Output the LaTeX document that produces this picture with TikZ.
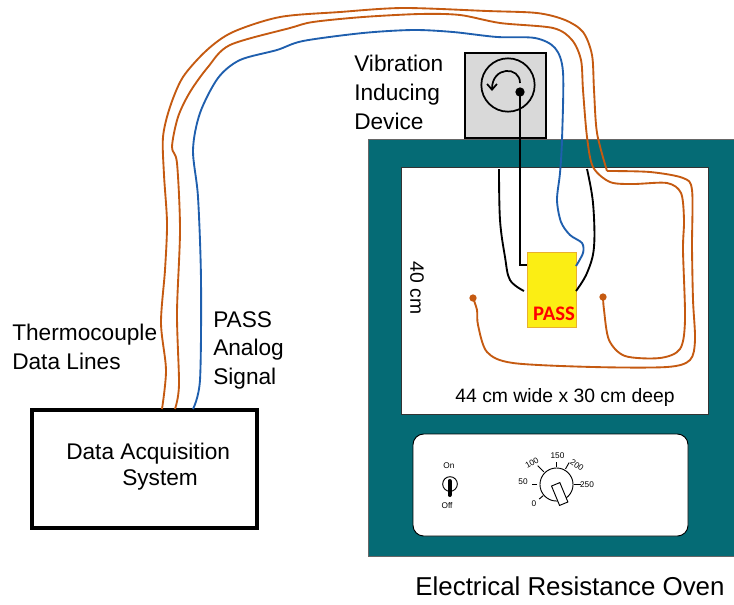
\documentclass[tikz,border=0pt]{standalone}
\usepackage{fontspec}
\setmainfont{Liberation Sans}
\newfontfamily\passfont{Carlito}
\usepackage{tikz}
\usetikzlibrary{arrows.meta, positioning, calc, fit}
\definecolor{OvenTeal}{HTML}{056B75}
\definecolor{WireBrown}{HTML}{C55A11}
\definecolor{WireBlue}{HTML}{1F5FAE}
\definecolor{DeviceGrey}{HTML}{D9D9D9}
\definecolor{PassYellow}{HTML}{FBEE14}
\definecolor{PassEdge}{HTML}{E9B02E}
\begin{document}
\begin{tikzpicture}[
        x=0.75pt, y=-0.75pt,
        label/.style={align=left, inner sep=0pt, font=\fontsize{17}{21.5}\selectfont},
        dimlabel/.style={inner sep=0pt, font=\fontsize{14.5}{17}\selectfont},
        dialnum/.style={inner sep=0pt, font=\fontsize{6.2}{7}\selectfont},
        daqbox/.style={draw=black, line width=2.4pt, inner sep=0pt},
        devbox/.style={draw=black, fill=DeviceGrey, line width=1.3pt, inner sep=0pt},
        ovenbox/.style={draw=black!60, fill=OvenTeal, line width=0.7pt, inner sep=0pt},
        cavity/.style={draw=black!80, fill=white, line width=0.7pt, inner sep=0pt},
        panel/.style={draw=black, fill=white, line width=0.7pt, inner sep=0pt, rounded corners=8pt},
        sensor/.style={draw=PassEdge, fill=PassYellow, line width=0.7pt, inner sep=0pt},
        tcwire/.style={WireBrown, line width=1.4pt, line join=round},
        sigwire/.style={WireBlue, line width=1.4pt},
        blackwire/.style={black, line width=1.4pt},
        tcdot/.style={circle, fill=WireBrown, inner sep=0pt, minimum size=5.5pt},
      ]
        \useasboundingbox (0,0) rectangle (734,604);
        \node[ovenbox, fit={(368,139) (738,556)}] (oven) {};
        \node[cavity, fit={(401,167) (708,414)}] (cav) {};
        \node[panel, fit={(413,434) (688,536)}] (ctrl) {};
        \node[devbox, fit={(465,53) (546,138)}] (device) {};
        \node[daqbox, fit={(32,410) (257,528)}] (daq) {};
        \node[sensor, fit={(527,252) (576,327)}] (pass) {};
        \node[circle, draw=black, line width=1.3pt, inner sep=0pt, minimum size=40pt] (rotor) at (508,85) {};
        \node[circle, fill=black, inner sep=0pt, minimum size=7pt] (shaft) at (520,92) {};
        \node[tcdot] (tipL) at (473,298) {};
        \node[tcdot] (tipR) at (603,297) {};
        \coordinate (outA) at (162,409);
        \coordinate (outB) at (175,409);
        \coordinate (outC) at (193,409);
        \coordinate (bendA) at (607,171);
        \coordinate (shaftend) at (527,265);
        \coordinate (sigend) at (576,266);
        \draw[line width=1.3pt, -{Straight Barb[length=1.5mm, width=2.6mm]}] (520,83) .. controls (520,66) and (492,66) .. (492,91);
        \draw[blackwire] (shaft.center) |- (shaftend);
        \draw[blackwire] plot[smooth, tension=0.6] coordinates {(499,169) (500,220) (505,257) (510,280) (524,291)};
        \draw[blackwire] plot[smooth, tension=0.6] coordinates {(587,169) (593,203) (594,247) (587,273) (576,291)};
        \draw[tcwire] plot[smooth, tension=0.5] coordinates {(outA) (166,370) (161,323) (165,270) (167,223) (164,175) (163,137) (170,107) (183,77) (207,50) (233,32) (280,17) (340,12) (403,8) (487,11) (537,13) (565,20) (583,32) (592,55) (594,90) (597,133) (bendA)};
        \draw[tcwire] plot[smooth, tension=0.5] coordinates {(bendA) (650,172) (683,178) (692,190) (692,247) (693,300) (695,340) (690,360) (667,367) (593,367) (513,363) (487,352) (478,325) (477,310) (tipL)};
        \draw[tcwire] plot[smooth, tension=0.5] coordinates {(outB) (179,385) (177,313) (180,230) (177,163) (172,147) (178,117) (190,92) (208,67) (230,45) (290,28) (313,22) (363,17) (420,14) (460,15) (500,23) (553,28) (572,40) (581,60) (583,90) (587,137) (593,167) (610,182) (633,184) (667,183) (681,193) (684,220) (683,250) (685,320) (680,349) (660,358) (625,356) (609,340) (604,310) (tipR)};
        \draw[sigwire] plot[smooth, tension=0.5] coordinates {(outC) (200,380) (201,280) (198,197) (193,150) (200,113) (218,78) (240,60) (277,50) (303,41) (363,33) (413,30) (453,32) (497,37) (535,38) (555,48) (563,72) (562,140) (560,173) (557,200) (561,222) (570,235) (582,243) (583,253) (sigend)};
        \node[inner sep=0pt, text=red, font=\fontsize{15.5}{17}\passfont\bfseries] (passname) at (554,314) {PASS};
        \node[label, anchor=north west] (devname) at (354,55) {Vibration\\Inducing\\Device};
        \node[label, anchor=north west] (tcname) at (12,324) {Thermocouple\\Data Lines};
        \node[label, anchor=north west] (signame) at (213,311) {PASS\\Analog\\Signal};
        \node[label, anchor=north west, font=\fontsize{17}{19.5}\selectfont] (daqname) at (66,443) {Data Acquisition\\\hspace*{42pt}System};
        \node[dimlabel, rotate=-90] (height) at (417,288) {40 cm};
        \node[dimlabel] (width) at (565,397) {44 cm wide x 30 cm deep};
        \node[inner sep=0pt, font=\fontsize{19.4}{22}\selectfont] (ovenname) at (570,586) {Electrical Resistance Oven};
        \node[circle, draw=black, line width=0.7pt, inner sep=0pt, minimum size=11pt] (toggle) at (450,484) {};
        \coordinate (leverend) at (449.5,495);
        \draw[black, line width=3pt, line cap=round] (449.5,481) -- (leverend);
        \node[dialnum] (on) at (449,466) {On};
        \node[dialnum] (off) at (447,506) {Off};
        \node[circle, draw=black, line width=0.7pt, inner sep=0pt, minimum size=24.8pt] (dial) at (556.5,484.5) {};
        \foreach \a/\rfrom/\rto in {90/13/17, 180/14.5/18.5, 0/13/18, 135/13.5/20, 60/13.5/19, 220/13/17}
          \draw[black, line width=0.7pt] ($(dial.center)+(\a:\rfrom pt)$) -- ($(dial.center)+(\a:\rto pt)$);
        \node[draw=black, fill=white, line width=0.7pt, inner sep=0pt, minimum width=15.75pt, minimum height=6.75pt, rotate=-67.5] (grip) at (559.7,494) {};
        \node[dialnum] (n150) at (557.5,456) {150};
        \node[dialnum] (n50) at (523,482) {50};
        \node[dialnum] (n250) at (587,485) {250};
        \node[dialnum] (n0) at (534,504) {0};
        \node[dialnum, rotate=30] (n100) at (532,463) {100};
        \node[dialnum, rotate=-35] (n200) at (577,465) {200};
      \end{tikzpicture}
\end{document}
